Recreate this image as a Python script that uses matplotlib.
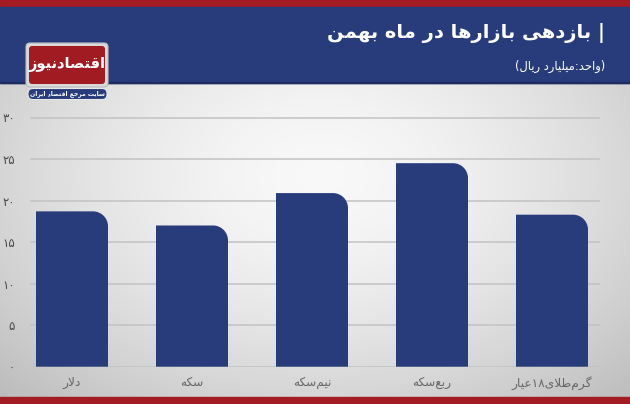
import matplotlib
matplotlib.use('Agg')
import matplotlib.pyplot as plt
import numpy as np
from matplotlib.path import Path
from matplotlib.patches import PathPatch, FancyBboxPatch, Rectangle

# ---------------- data ----------------
categories = ['دلار', 'سکه', 'نیم‌سکه', 'ربع‌سکه', 'گرم‌طلای۱۸عیار']
values = [18.7, 17.0, 20.9, 24.5, 18.3]
yticks = [0, 5, 10, 15, 20, 25, 30]
ytick_labels = ['۰', '۵', '۱۰', '۱۵', '۲۰', '۲۵', '۳۰']
title = '| بازدهی بازارها در ماه بهمن'
subtitle = '(واحد:میلیارد ریال)'
logo_text = 'اقتصادنیوز'
logo_sub = 'سایت مرجع اقتصاد ایران'

# ---------------- minimal Arabic/Persian shaping + bidi ----------------
FORMS = {
    'ا': (0xFE8D, 0xFE8E, None, None), 'آ': (0xFE81, 0xFE82, None, None),
    'أ': (0xFE83, 0xFE84, None, None), 'إ': (0xFE87, 0xFE88, None, None),
    'د': (0xFEA9, 0xFEAA, None, None), 'ذ': (0xFEAB, 0xFEAC, None, None),
    'ر': (0xFEAD, 0xFEAE, None, None), 'ز': (0xFEAF, 0xFEB0, None, None),
    'ژ': (0xFB8A, 0xFB8B, None, None), 'و': (0xFEED, 0xFEEE, None, None),
    'ب': (0xFE8F, 0xFE90, 0xFE91, 0xFE92), 'پ': (0xFB56, 0xFB57, 0xFB58, 0xFB59),
    'ت': (0xFE95, 0xFE96, 0xFE97, 0xFE98), 'ث': (0xFE99, 0xFE9A, 0xFE9B, 0xFE9C),
    'ج': (0xFE9D, 0xFE9E, 0xFE9F, 0xFEA0), 'چ': (0xFB7A, 0xFB7B, 0xFB7C, 0xFB7D),
    'ح': (0xFEA1, 0xFEA2, 0xFEA3, 0xFEA4), 'خ': (0xFEA5, 0xFEA6, 0xFEA7, 0xFEA8),
    'س': (0xFEB1, 0xFEB2, 0xFEB3, 0xFEB4), 'ش': (0xFEB5, 0xFEB6, 0xFEB7, 0xFEB8),
    'ص': (0xFEB9, 0xFEBA, 0xFEBB, 0xFEBC), 'ض': (0xFEBD, 0xFEBE, 0xFEBF, 0xFEC0),
    'ط': (0xFEC1, 0xFEC2, 0xFEC3, 0xFEC4), 'ظ': (0xFEC5, 0xFEC6, 0xFEC7, 0xFEC8),
    'ع': (0xFEC9, 0xFECA, 0xFECB, 0xFECC), 'غ': (0xFECD, 0xFECE, 0xFECF, 0xFED0),
    'ف': (0xFED1, 0xFED2, 0xFED3, 0xFED4), 'ق': (0xFED5, 0xFED6, 0xFED7, 0xFED8),
    'ک': (0xFB8E, 0xFB8F, 0xFB90, 0xFB91), 'گ': (0xFB92, 0xFB93, 0xFB94, 0xFB95),
    'ل': (0xFEDD, 0xFEDE, 0xFEDF, 0xFEE0), 'م': (0xFEE1, 0xFEE2, 0xFEE3, 0xFEE4),
    'ن': (0xFEE5, 0xFEE6, 0xFEE7, 0xFEE8), 'ه': (0xFEE9, 0xFEEA, 0xFEEB, 0xFEEC),
    'ی': (0xFBFC, 0xFBFD, 0xFBFE, 0xFBFF), 'ي': (0xFEF1, 0xFEF2, 0xFEF3, 0xFEF4),
}
LA_FORMS = {'ا': (0xFEFB, 0xFEFC), 'آ': (0xFEF5, 0xFEF6),
            'أ': (0xFEF7, 0xFEF8), 'إ': (0xFEF9, 0xFEFA)}


def _shape(s):
    toks, i = [], 0
    while i < len(s):
        if s[i] == 'ل' and i + 1 < len(s) and s[i + 1] in LA_FORMS:
            toks.append(('LA', s[i + 1])); i += 2
        else:
            toks.append((s[i], None)); i += 1

    def fwd(t):
        return t[0] != 'LA' and t[0] in FORMS and FORMS[t[0]][2] is not None

    def back(t):
        return t[0] == 'LA' or t[0] in FORMS

    out = []
    for k, t in enumerate(toks):
        p = toks[k - 1] if k > 0 else None
        n = toks[k + 1] if k + 1 < len(toks) else None
        jp = p is not None and fwd(p) and back(t)
        jn = n is not None and fwd(t) and back(n)
        c = t[0]
        if c == 'LA':
            out.append(chr(LA_FORMS[t[1]][1 if jp else 0]))
        elif c in FORMS:
            f = FORMS[c]
            g = f[3] if (jp and jn) else f[1] if jp else f[2] if jn else f[0]
            out.append(chr(g))
        elif c == '\u200c':
            continue
        else:
            out.append(c)
    return out


def fa(s):
    chars = _shape(s)
    runs, cur, curd = [], [], None
    for ch in chars:
        d = ch.isdigit()
        if cur and d != curd:
            runs.append((curd, cur)); cur = []
        cur.append(ch); curd = d
    if cur:
        runs.append((curd, cur))
    mirror = {'(': ')', ')': '('}
    res = []
    for d, r in reversed(runs):
        if d:
            res.extend(r)
        else:
            res.extend(mirror.get(ch, ch) for ch in reversed(r))
    return ''.join(res)


# ---------------- figure ----------------
W, H = 630, 404
plt.rcParams['font.family'] = ['DejaVu Sans']
fig = plt.figure(figsize=(W / 100, H / 100), dpi=100)

bg = fig.add_axes([0, 0, 1, 1], zorder=0)
bg.set_xlim(0, W); bg.set_ylim(H, 0); bg.axis('off')

# radial gray gradient
yy, xx = np.mgrid[0:H, 0:W]
r = np.sqrt(((xx - 320) / 390.0) ** 2 + ((yy - 175) / 270.0) ** 2)
v = 0.975 - 0.19 * np.clip(r, 0, 1.3) ** 1.6
img = np.dstack([v, v, v])
bg.imshow(img, extent=(0, W, H, 0), aspect='auto', zorder=0)

blue = '#283b7b'
red = '#a31c24'
bg.add_patch(Rectangle((0, 0), W, 7, color=red, zorder=1))
bg.add_patch(Rectangle((0, 7), W, 76, color=blue, zorder=1))
bg.add_patch(Rectangle((0, 82), W, 1.2, color='#1d2c60', zorder=1))
bg.add_patch(Rectangle((0, 397), W, 7, color=red, zorder=1))

# title texts
bg.text(605, 33, fa(title), color='white', fontsize=14, fontweight='bold',
        ha='right', va='center', zorder=3)
bg.text(605, 66, fa(subtitle), color='white', fontsize=8.3,
        ha='right', va='center', zorder=3)

# logo
bg.add_patch(FancyBboxPatch((26, 43), 82, 44, boxstyle='round,pad=0,rounding_size=4',
                            fc='#d9d9d9', ec='#bdbdbd', lw=0.8, zorder=2))
bg.add_patch(FancyBboxPatch((29, 46), 76, 38, boxstyle='round,pad=0,rounding_size=3',
                            fc='#a01c22', ec='none', zorder=3))
bg.text(67, 64, fa(logo_text), color='white', fontsize=10.5, fontweight='bold',
        ha='center', va='center', zorder=4)
bg.add_patch(FancyBboxPatch((28, 88.5), 79, 11, boxstyle='round,pad=0,rounding_size=5',
                            fc=blue, ec='#e8e8e8', lw=0.8, zorder=3))
bg.text(67.5, 94, fa(logo_sub), color='white', fontsize=4.4, fontweight='bold',
        ha='center', va='center', zorder=4)

# ---------------- main axes ----------------
ax = fig.add_axes([30 / W, 1 - 366.7 / H, 570 / W, 249.2 / H], zorder=5)
ax.set_facecolor('none')
x = np.arange(len(categories))
bars = ax.bar(x, values, width=0.6, color=blue)
ax.set_xlim(-0.35, 4.4)
ax.set_ylim(0, 30)
ax.set_yticks(yticks)
ax.set_yticklabels(ytick_labels, color='#4a4a4a', fontsize=8.5)
ax.set_xticks(x)
ax.set_xticklabels([fa(c) for c in categories], color='#666666', fontsize=8.7)
ax.tick_params(axis='both', length=0)
ax.tick_params(axis='y', pad=11)
ax.tick_params(axis='x', pad=7)
for s in ax.spines.values():
    s.set_visible(False)
ax.yaxis.grid(True, color='#c2c2c2', lw=1.1)
ax.set_axisbelow(True)

# round the top-right corner of each bar (radius ~15 px)
fig.canvas.draw()
px_per_x = ax.transData.transform((1, 0))[0] - ax.transData.transform((0, 0))[0]
px_per_y = ax.transData.transform((0, 1))[1] - ax.transData.transform((0, 0))[1]
rad_px = 15
k = 0.5523
for b in bars:
    x0, w, h = b.get_x(), b.get_width(), b.get_height()
    rx, ry = rad_px / px_per_x, rad_px / px_per_y
    x1, y1 = x0 + w, h
    verts = [(x0, 0), (x0, y1), (x1 - rx, y1),
             (x1 - rx + k * rx, y1), (x1, y1 - ry + k * ry), (x1, y1 - ry),
             (x1, 0), (x0, 0)]
    codes = [Path.MOVETO, Path.LINETO, Path.LINETO,
             Path.CURVE4, Path.CURVE4, Path.CURVE4,
             Path.LINETO, Path.CLOSEPOLY]
    ax.add_patch(PathPatch(Path(verts, codes), fc=b.get_facecolor(), ec='none', zorder=2))
    b.set_visible(False)

fig.savefig('out.png', dpi=100)
